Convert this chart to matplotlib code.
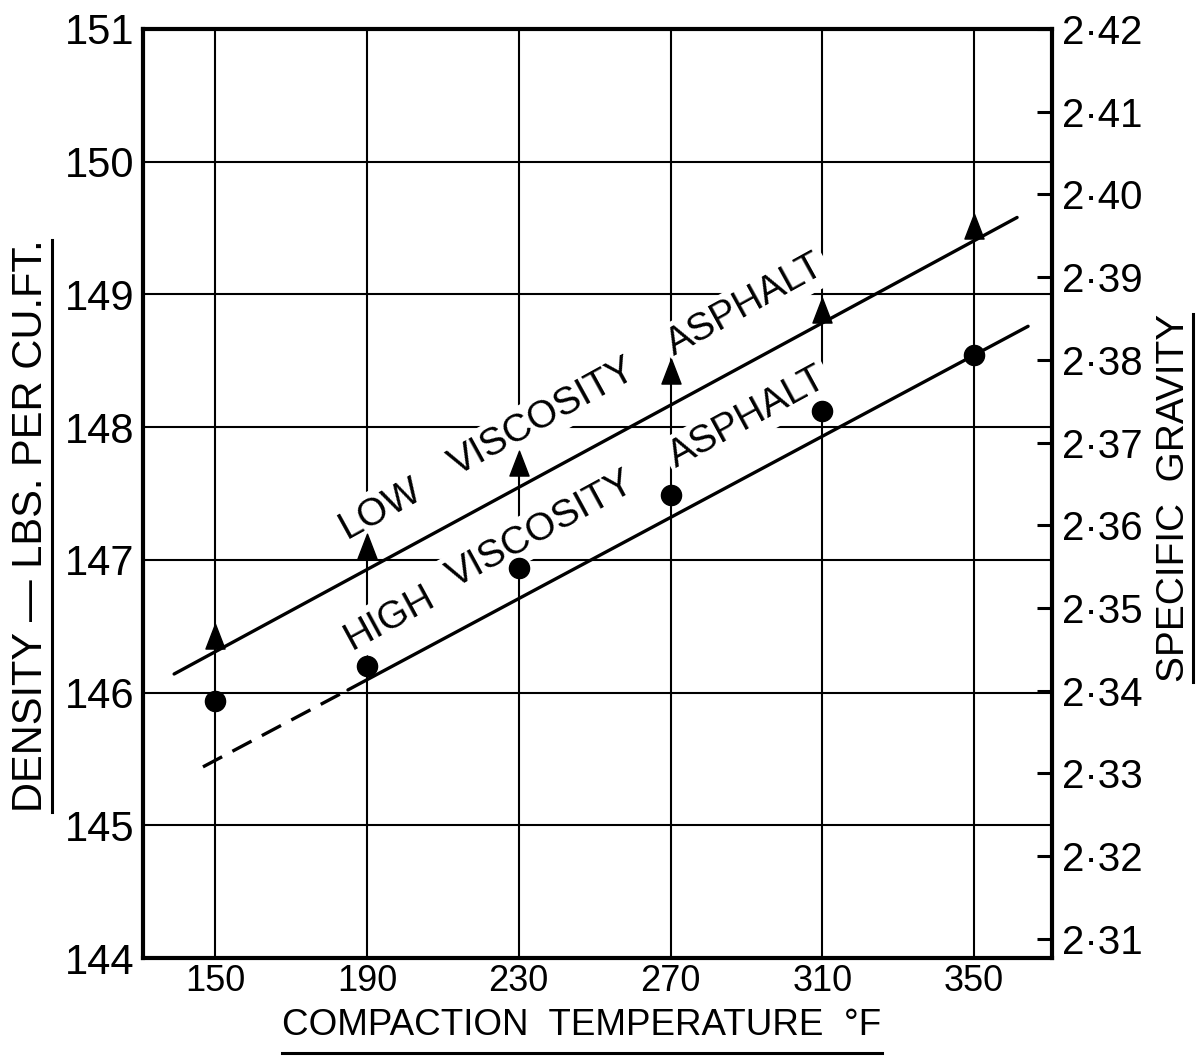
import matplotlib
matplotlib.use('Agg')
import matplotlib.pyplot as plt
import numpy as np
from matplotlib.lines import Line2D
from matplotlib.path import Path

plt.rcParams['font.family'] = ['Liberation Sans', 'DejaVu Sans']

# ---------------- data ----------------
temps = [150, 190, 230, 270, 310, 350]
low_visc = [146.40, 147.08, 147.71, 148.40, 148.86, 149.49]
high_visc = [145.94, 146.20, 146.94, 147.49, 148.12, 148.54]

low_fit_x = [139.2, 361.3]
low_fit_y = [146.14, 149.58]
high_fit_solid_x = [185.0, 364.2]
high_fit_solid_y = [146.02, 148.76]
high_fit_dash_x = [146.8, 185.0]
high_fit_dash_y = [145.44, 146.02]

density_ticks = [144, 145, 146, 147, 148, 149, 150, 151]
sg_ticks = [2.31, 2.32, 2.33, 2.34, 2.35, 2.36, 2.37, 2.38, 2.39, 2.40, 2.41, 2.42]
sg_labels = ['2·31', '2·32', '2·33', '2·34', '2·35', '2·36', '2·37', '2·38',
             '2·39', '2·40', '2·41', '2·42']
water_density = 62.4  # lbs per cu.ft.

low_words = ['LOW', 'VISCOSITY', 'ASPHALT']
high_words = ['HIGH', 'VISCOSITY', 'ASPHALT']

# ---------------- figure ----------------
W, H = 1197, 1056
fig = plt.figure(figsize=(W / 100, H / 100), dpi=100)
ax = fig.add_axes([143 / W, 1 - 958 / H, (1052 - 143) / W, (958 - 29) / H])

ax.set_xlim(131, 370.5)
ax.set_ylim(144, 151)
ax.set_xticks(temps)
ax.set_yticks(density_ticks)
ax.grid(True, color='black', linewidth=1.5, zorder=1)
ax.set_axisbelow(True)
ax.tick_params(axis='both', length=0)
ax.tick_params(axis='y', labelsize=30, pad=6)
ax.tick_params(axis='x', labelsize=26, pad=4)
for sp in ax.spines.values():
    sp.set_linewidth(3)
    sp.set_zorder(6)

ax2 = ax.twinx()
ax2.set_ylim(144 / water_density, 151 / water_density)
ax2.set_yticks(sg_ticks)
ax2.set_yticklabels(sg_labels)
ax2.tick_params(axis='y', direction='in', length=11, width=2.2, labelsize=29, pad=7)
for sp in ax2.spines.values():
    sp.set_visible(False)

lw = 2.4
ax.plot(low_fit_x, low_fit_y, color='black', lw=lw, solid_capstyle='round', zorder=4)
ax.plot(high_fit_solid_x, high_fit_solid_y, color='black', lw=lw, solid_capstyle='round', zorder=4)
ax.plot(high_fit_dash_x, high_fit_dash_y, color='black', lw=lw, dashes=(6.5, 3.5), zorder=4)

tri = Path([(0, 1.6), (-1, -1), (1, -1), (0, 1.6)],
           [Path.MOVETO, Path.LINETO, Path.LINETO, Path.CLOSEPOLY])
ax.plot(temps, low_visc, linestyle='none', marker=tri, markersize=22,
        color='black', zorder=5)
ax.plot(temps, high_visc, linestyle='none', marker='o', markersize=14.5,
        color='black', zorder=5)

# curve labels, rotated along fitted lines
def screen_angle(xs, ys):
    p = ax.transData.transform(np.column_stack([xs, ys]))
    return np.degrees(np.arctan2(p[1, 1] - p[0, 1], p[1, 0] - p[0, 0]))

def line_y(xs, ys, x):
    return ys[0] + (ys[1] - ys[0]) * (x - xs[0]) / (xs[1] - xs[0])

def word_labels(words, word_x, offsets_px, xs, ys):
    ang = screen_angle(xs, ys) + 0.4
    inv = ax.transData.inverted()
    for w, x, o in zip(words, word_x, offsets_px):
        px, py = ax.transData.transform((x, line_y(xs, ys, x)))
        dx, dy = inv.transform((px, py + o))
        ax.text(dx, dy, w, fontsize=28, rotation=ang, rotation_mode='anchor',
                ha='left', va='baseline', zorder=3,
                bbox=dict(facecolor='white', edgecolor='none', pad=3))

word_labels(low_words, [184.7, 213.6, 271.0], [41, 45, 47], low_fit_x, low_fit_y)
word_labels(high_words, [186.0, 213.1, 271.5], [38, 45, 46], high_fit_solid_x, high_fit_solid_y)

# axis labels with underline
xl = fig.text(582 / W, 1 - 1035 / H, 'COMPACTION  TEMPERATURE  °F', fontsize=26.5,
              ha='center', va='baseline')
yl = fig.text(31 / W, 1 - 526 / H, 'DENSITY — LBS. PER CU.FT.', fontsize=30,
              ha='center', va='center', rotation=90)
yr = fig.text(1174 / W, 1 - 498 / H, 'SPECIFIC  GRAVITY', fontsize=28,
              ha='center', va='center', rotation=90)

fig.canvas.draw()
r = fig.canvas.get_renderer()
bb = xl.get_window_extent(r)
fig.add_artist(Line2D([bb.x0 / W, bb.x1 / W], [(H - 1053) / H] * 2, color='black', lw=2.2))
bb = yl.get_window_extent(r)
fig.add_artist(Line2D([52 / W] * 2, [bb.y0 / H, bb.y1 / H], color='black', lw=2.2))
bb = yr.get_window_extent(r)
fig.add_artist(Line2D([1193 / W] * 2, [bb.y0 / H, bb.y1 / H], color='black', lw=2.2))

fig.savefig('out.png', dpi=100, facecolor='white')
